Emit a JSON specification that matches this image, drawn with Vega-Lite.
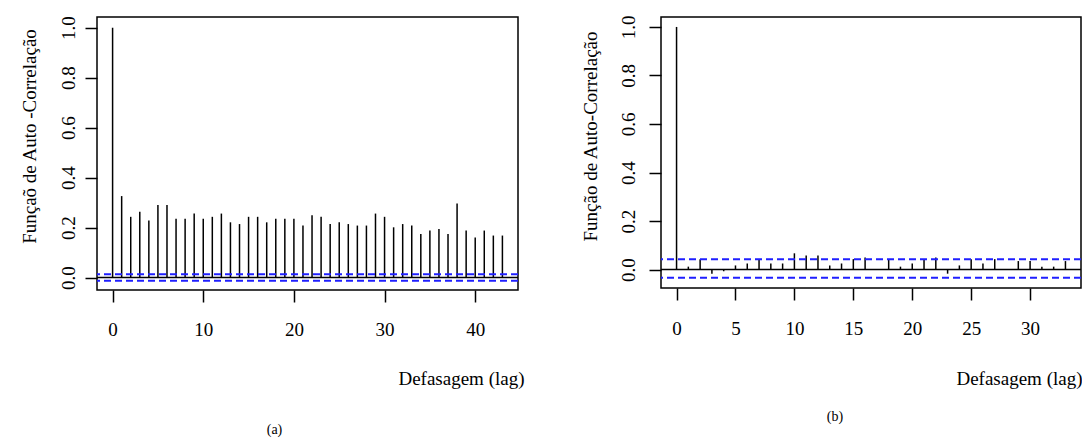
{
  "$schema": "https://vega.github.io/schema/vega-lite/v6.json",
  "background": "white",
  "padding": {"left": 19, "top": 14, "right": 0, "bottom": 0},
  "spacing": 55,
  "config": {
    "view": {"stroke": "black", "strokeWidth": 1.5},
    "font": "Liberation Serif",
    "axis": {
      "grid": false, "domain": false, "tickColor": "black", "tickWidth": 1.5, "tickSize": 12,
      "labelFont": "Liberation Serif", "labelFontSize": 19, "labelColor": "black",
      "titleFont": "Liberation Serif", "titleFontSize": 19, "titleFontWeight": "normal", "titleColor": "black",
      "labelFlush": false, "labelBound": false, "labelOverlap": false
    },
    "title": {"font": "Liberation Serif", "fontSize": 14, "fontWeight": "normal", "color": "black"}
  },
  "datasets": {
    "a": [
      {"lag": 0, "acf": 1.0}, {"lag": 1, "acf": 0.326}, {"lag": 2, "acf": 0.243}, {"lag": 3, "acf": 0.263},
      {"lag": 4, "acf": 0.228}, {"lag": 5, "acf": 0.29}, {"lag": 6, "acf": 0.29}, {"lag": 7, "acf": 0.235},
      {"lag": 8, "acf": 0.235}, {"lag": 9, "acf": 0.256}, {"lag": 10, "acf": 0.235}, {"lag": 11, "acf": 0.243},
      {"lag": 12, "acf": 0.256}, {"lag": 13, "acf": 0.221}, {"lag": 14, "acf": 0.214}, {"lag": 15, "acf": 0.243},
      {"lag": 16, "acf": 0.243}, {"lag": 17, "acf": 0.221}, {"lag": 18, "acf": 0.235}, {"lag": 19, "acf": 0.235},
      {"lag": 20, "acf": 0.235}, {"lag": 21, "acf": 0.208}, {"lag": 22, "acf": 0.249}, {"lag": 23, "acf": 0.243},
      {"lag": 24, "acf": 0.214}, {"lag": 25, "acf": 0.221}, {"lag": 26, "acf": 0.214}, {"lag": 27, "acf": 0.208},
      {"lag": 28, "acf": 0.208}, {"lag": 29, "acf": 0.256}, {"lag": 30, "acf": 0.243}, {"lag": 31, "acf": 0.201},
      {"lag": 32, "acf": 0.214}, {"lag": 33, "acf": 0.208}, {"lag": 34, "acf": 0.174}, {"lag": 35, "acf": 0.188},
      {"lag": 36, "acf": 0.194}, {"lag": 37, "acf": 0.174}, {"lag": 38, "acf": 0.296}, {"lag": 39, "acf": 0.188},
      {"lag": 40, "acf": 0.16}, {"lag": 41, "acf": 0.188}, {"lag": 42, "acf": 0.168}, {"lag": 43, "acf": 0.168}
    ],
    "b": [
      {"lag": 0, "acf": 1.0}, {"lag": 1, "acf": 0.012}, {"lag": 2, "acf": 0.043}, {"lag": 3, "acf": -0.017},
      {"lag": 4, "acf": -0.007}, {"lag": 5, "acf": 0.017}, {"lag": 6, "acf": 0.025}, {"lag": 7, "acf": 0.043},
      {"lag": 8, "acf": 0.025}, {"lag": 9, "acf": 0.025}, {"lag": 10, "acf": 0.067}, {"lag": 11, "acf": 0.058},
      {"lag": 12, "acf": 0.058}, {"lag": 13, "acf": 0.017}, {"lag": 14, "acf": 0.025}, {"lag": 15, "acf": 0.043},
      {"lag": 16, "acf": 0.05}, {"lag": 17, "acf": 0.002}, {"lag": 18, "acf": 0.043}, {"lag": 19, "acf": 0.012},
      {"lag": 20, "acf": 0.025}, {"lag": 21, "acf": 0.043}, {"lag": 22, "acf": 0.05}, {"lag": 23, "acf": -0.017},
      {"lag": 24, "acf": 0.017}, {"lag": 25, "acf": 0.043}, {"lag": 26, "acf": 0.025}, {"lag": 27, "acf": 0.043},
      {"lag": 28, "acf": 0.002}, {"lag": 29, "acf": 0.035}, {"lag": 30, "acf": 0.035}, {"lag": 31, "acf": 0.012},
      {"lag": 32, "acf": 0.012}, {"lag": 33, "acf": 0.035}
    ],
    "ci_a": [{"ci": 0.013}, {"ci": -0.013}],
    "ci_b": [{"ci": 0.043}, {"ci": -0.034}]
  },
  "hconcat": [
    {
      "width": 421,
      "height": 273,
      "title": {"text": "(a)", "orient": "bottom", "anchor": "middle", "frame": "group", "dx": -33, "offset": 35},
      "layer": [
        {
          "data": {"name": "a"},
          "mark": {"type": "rule", "color": "black", "strokeWidth": 1.5},
          "encoding": {
            "x": {"field": "lag", "type": "quantitative",
              "scale": {"domain": [-1.72, 44.72], "nice": false, "zero": false},
              "axis": {"values": [0, 10, 20, 30, 40], "labelPadding": 27, "labelBaseline": "middle",
                "title": "Defasagem (lag)", "titleX": 427, "titleY": 88, "titleAlign": "right", "titleBaseline": "middle"}},
            "y": {"field": "acf", "type": "quantitative",
              "scale": {"domain": [-0.05, 1.043], "nice": false, "zero": false},
              "axis": {"values": [0, 0.2, 0.4, 0.6, 0.8, 1.0], "format": ".1f", "labelAngle": 270,
                "labelAlign": "center", "labelBaseline": "middle", "labelPadding": 17,
                "title": "Funçaõ de Auto -Correlação", "titleAngle": 270, "titleAlign": "center", "titleBaseline": "middle",
                "titleX": -68, "titleY": 119}},
            "y2": {"datum": 0}
          }
        },
        {
          "data": {"name": "a"},
          "transform": [{"filter": "datum.lag === 0"}],
          "mark": {"type": "rule", "color": "black", "strokeWidth": 1.5},
          "encoding": {"y": {"datum": 0}}
        },
        {
          "data": {"name": "ci_a"},
          "mark": {"type": "rule", "color": "#1f1fff", "strokeWidth": 2, "strokeDash": [7, 4]},
          "encoding": {"y": {"field": "ci", "type": "quantitative"}}
        }
      ]
    },
    {
      "width": 420,
      "height": 271,
      "title": {"text": "(b)", "orient": "bottom", "anchor": "middle", "frame": "group", "dx": -36, "offset": 22},
      "layer": [
        {
          "data": {"name": "b"},
          "mark": {"type": "rule", "color": "black", "strokeWidth": 1.5},
          "encoding": {
            "x": {"field": "lag", "type": "quantitative",
              "scale": {"domain": [-1.32, 34.32], "nice": false, "zero": false},
              "axis": {"values": [0, 5, 10, 15, 20, 25, 30], "labelPadding": 28, "labelBaseline": "middle",
                "title": "Defasagem (lag)", "titleX": 421, "titleY": 90, "titleAlign": "right", "titleBaseline": "middle"}},
            "y": {"field": "acf", "type": "quantitative",
              "scale": {"domain": [-0.076, 1.041], "nice": false, "zero": false},
              "axis": {"values": [0, 0.2, 0.4, 0.6, 0.8, 1.0], "format": ".1f", "labelAngle": 270,
                "labelAlign": "center", "labelBaseline": "middle", "labelPadding": 21,
                "title": "Função de Auto-Correlação", "titleAngle": 270, "titleAlign": "center", "titleBaseline": "middle",
                "titleX": -70.3, "titleY": 119}},
            "y2": {"datum": 0}
          }
        },
        {
          "data": {"name": "b"},
          "transform": [{"filter": "datum.lag === 0"}],
          "mark": {"type": "rule", "color": "black", "strokeWidth": 1.5},
          "encoding": {"y": {"datum": 0}}
        },
        {
          "data": {"name": "ci_b"},
          "mark": {"type": "rule", "color": "#1f1fff", "strokeWidth": 2, "strokeDash": [7, 4]},
          "encoding": {"y": {"field": "ci", "type": "quantitative"}}
        }
      ]
    }
  ]
}
